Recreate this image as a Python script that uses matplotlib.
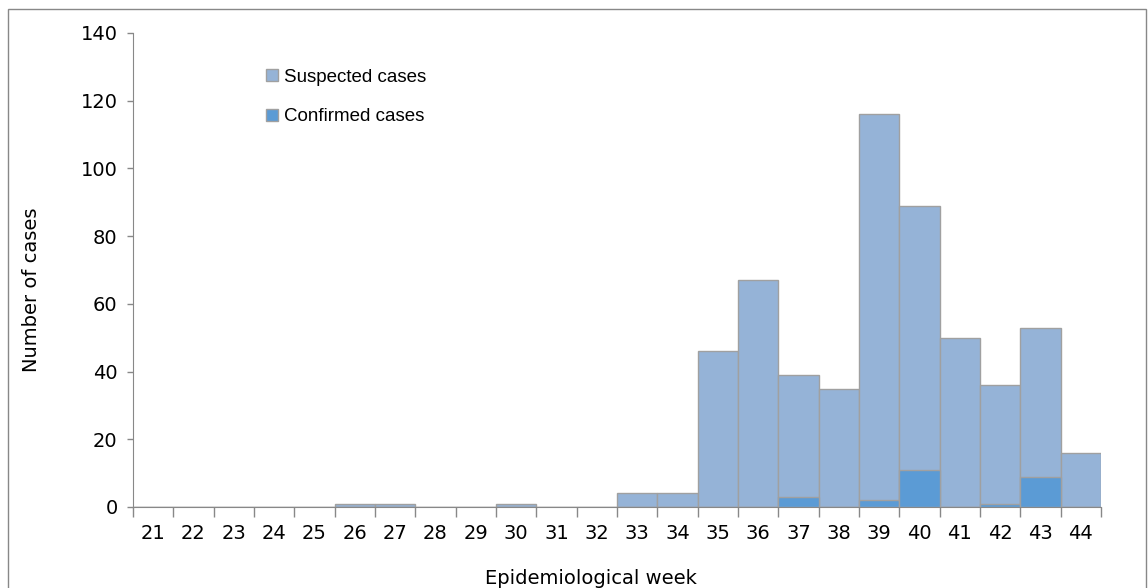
import numpy as np
import matplotlib.pyplot as plt
from matplotlib.patches import Rectangle

# Données
weeks = [str(w) for w in range(21, 45)]
suspected = [0, 0, 0, 0, 0, 1, 1, 0, 0, 1, 0, 0, 4, 4, 46, 67, 39, 35, 116, 89, 50, 36, 53, 16]
confirmed = [0, 0, 0, 0, 0, 0, 0, 0, 0, 0, 0, 0, 0, 0, 0, 0, 3, 0, 2, 11, 0, 1, 9, 0]

c_susp = "#95b3d7"
c_conf = "#5b9bd5"
c_edge = "#a0a0a0"

fig = plt.figure(figsize=(11.48, 5.88), dpi=100)
ax = fig.add_axes([133/1148, 1-507/588, (1101-133)/1148, (507-33)/588])

x = np.arange(len(weeks))
ax.bar(x, suspected, width=1, color=c_susp, edgecolor=c_edge, linewidth=1, label="Suspected cases", zorder=2)
ax.bar(x, confirmed, width=1, color=c_conf, edgecolor=c_edge, linewidth=1, label="Confirmed cases", zorder=3)

ax.set_xlim(-0.5, len(weeks) - 0.5)
ax.set_ylim(0, 140)
ax.set_yticks(np.arange(0, 141, 20))

# ticks aux limites des catégories, labels au centre
ax.set_xticks(np.arange(-0.5, len(weeks)), labels=[])
ax.set_xticks(x, labels=weeks, minor=True)
ax.tick_params(axis="x", which="major", length=7, color="#888888", width=1)
ax.tick_params(axis="x", which="minor", length=0, pad=12, labelsize=14)
ax.tick_params(axis="y", length=4, color="#888888", width=1, pad=7, labelsize=14)

for s in ["top", "right"]:
    ax.spines[s].set_visible(False)
for s in ["left", "bottom"]:
    ax.spines[s].set_color("#888888")

ax.set_ylabel("Number of cases", fontsize=14)
ax.set_xlabel("Epidemiological week", fontsize=14)
ax.yaxis.set_label_coords(-0.095, 0.458)
ax.xaxis.set_label_coords(0.473, -0.131)

ax.legend(loc="upper left", bbox_to_anchor=(0.12, 0.96), frameon=False, handlelength=0.62, handleheight=0.62,
          handletextpad=0.33, labelspacing=1.2, prop={"family": "Liberation Sans", "size": 13.5})

# cadre de la figure
fig.patches.append(Rectangle((8/1148, -0.05), (1146-8)/1148, 1.05-9/588, transform=fig.transFigure,
                             fill=False, edgecolor="#888888", linewidth=1))

fig.savefig("out.png", dpi=100)
